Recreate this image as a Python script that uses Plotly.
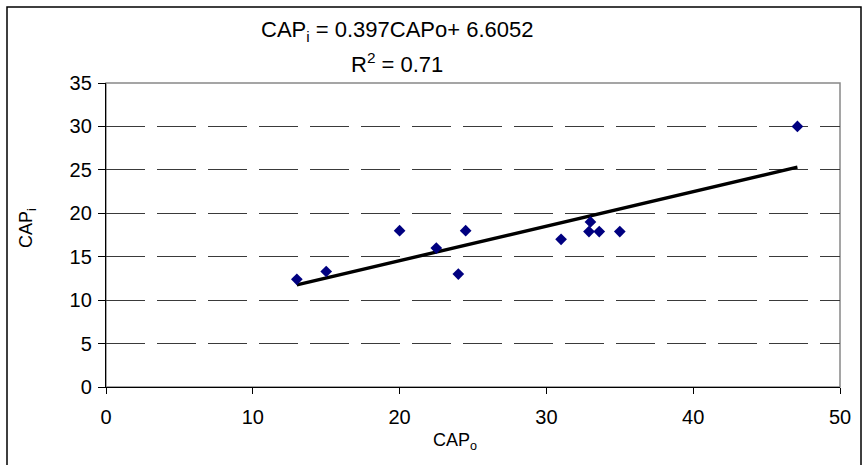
import plotly.graph_objects as go

cap_o = [13, 15, 20, 22.5, 24, 24.5, 31, 33, 32.9, 33.6, 35, 47.1]
cap_i = [12.4, 13.3, 18, 16, 13, 18, 17, 19, 17.9, 17.9, 17.9, 30]
slope = 0.397
intercept = 6.6052
r2 = 0.71

x_ticks = [0, 10, 20, 30, 40, 50]
y_ticks = [0, 5, 10, 15, 20, 25, 30, 35]

xmin, xmax = min(cap_o), max(cap_o)
trend_x = [xmin, xmax]
trend_y = [slope * v + intercept for v in trend_x]

FONT = "Liberation Sans, Arial, sans-serif"

fig = go.Figure()
fig.add_trace(go.Scatter(x=trend_x, y=trend_y, mode="lines",
                         line=dict(color="black", width=3.4), showlegend=False))
fig.add_trace(go.Scatter(x=cap_o, y=cap_i, mode="markers",
                         marker=dict(symbol="diamond", size=9, color="#000080",
                                     line=dict(width=0)), showlegend=False))

L, R, T, B = 106, 24, 83, 78
W, H = 864, 465
pw, ph = W - L - R, H - T - B

def px(xp):
    return (xp - L) / pw

def py(yp):
    return (H - B - yp) / ph

fig.update_layout(
    width=W, height=H,
    margin=dict(l=L, r=R, t=T, b=B, pad=0),
    paper_bgcolor="white", plot_bgcolor="white",
    font=dict(family=FONT, size=20, color="black"),
    xaxis=dict(range=[0, 50], tickvals=x_ticks, showgrid=False, zeroline=False,
               showline=True, linecolor="black", linewidth=1.3,
               ticks="outside", ticklen=6, tickcolor="black", tickwidth=1.3,
               tickfont=dict(size=20), ticklabelstandoff=6, fixedrange=True),
    yaxis=dict(range=[0, 35], tickvals=y_ticks, showgrid=True,
               gridcolor="#3a3a3a", gridwidth=1.4, griddash="39px,12px",
               zeroline=False, showline=True, linecolor="black", linewidth=1.3,
               ticks="outside", ticklen=7, tickcolor="black", tickwidth=1.3,
               tickfont=dict(size=20), ticklabelstandoff=2, fixedrange=True),
    shapes=[
        dict(type="rect", xref="paper", yref="paper", x0=0, x1=1, y0=0, y1=1,
             line=dict(color="#888", width=1.5), layer="between"),
        dict(type="rect", xref="paper", yref="paper",
             x0=px(7), x1=px(861), y0=py(475), y1=py(7),
             line=dict(color="black", width=1.5), layer="above"),
    ],
    annotations=[
        dict(text="CAP<sub>i</sub> = %gCAPo+ %g" % (slope, intercept),
             xref="paper", yref="paper", x=px(397), y=py(31),
             xanchor="center", yanchor="middle", showarrow=False,
             font=dict(size=22)),
        dict(text="R<sup>2</sup> = %g" % r2,
             xref="paper", yref="paper", x=px(397), y=py(63),
             xanchor="center", yanchor="middle", showarrow=False,
             font=dict(size=22)),
        dict(text="CAP<sub>o</sub>", xref="paper", yref="paper",
             x=px(455), y=py(441), xanchor="center", yanchor="middle",
             showarrow=False, font=dict(size=18)),
        dict(text="CAP<sub>i</sub>", xref="paper", yref="paper",
             x=px(27), y=py(228), xanchor="center", yanchor="middle",
             textangle=-90, showarrow=False, font=dict(size=18)),
    ],
)

fig.write_html("out.html")
